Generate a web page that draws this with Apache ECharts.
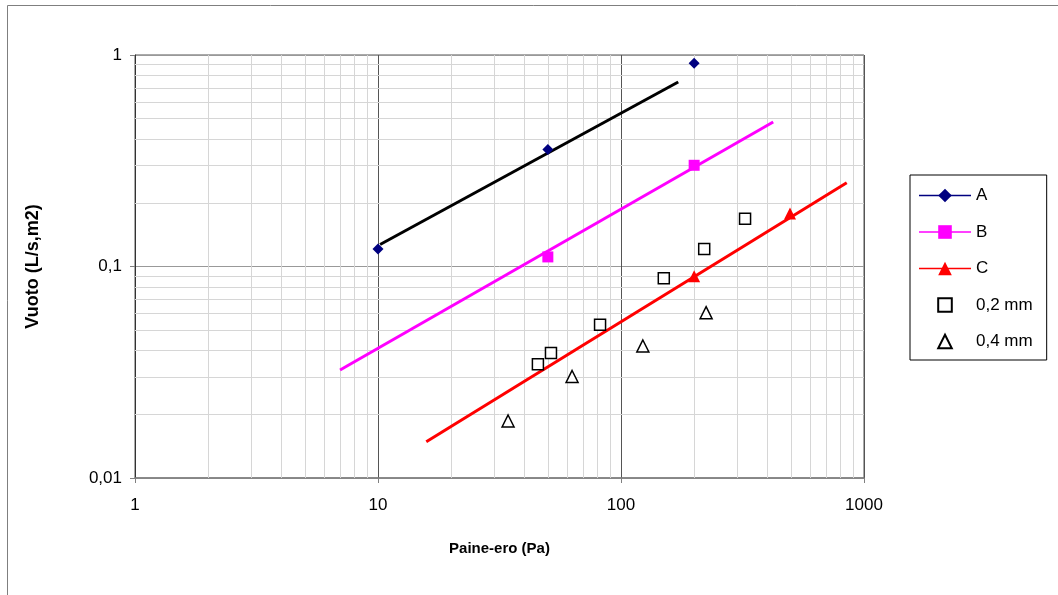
<!DOCTYPE html>
<html>
<head>
<meta charset="utf-8">
<script src="https://cdn.jsdelivr.net/npm/echarts@6/dist/echarts.min.js"></script>
<style>
  html, body { margin: 0; padding: 0; background: #fff; }
  #chart { width: 1058px; height: 595px; }
</style>
</head>
<body>
<div id="chart"></div>
<script>
// Measured points [pressure difference (Pa), leakage (L/s,m2)]
const seriesA = [[10, 0.121], [50, 0.357], [200, 0.915]];
const seriesB = [[50, 0.111], [200, 0.301]];
const seriesC = [[200, 0.090], [496, 0.178]];
const gap02 = [[45.5, 0.0345], [51.5, 0.039], [82, 0.053], [150, 0.088], [220, 0.121], [324, 0.168]];
const gap04 = [[34.3, 0.0186], [62.9, 0.0302], [123, 0.0421], [224, 0.0605]];

// Power-law trend lines (end points)
const trendA = [[10.2, 0.127], [172, 0.745]];
const trendB = [[6.98, 0.0324], [423, 0.482]];
const trendC = [[15.8, 0.01485], [849, 0.249]];

// Axis ticks and labels
const xTickValues = [1, 10, 100, 1000];
const xTickLabels = ['1', '10', '100', '1000'];
const yTickValues = [0.01, 0.1, 1];
const yTickLabels = ['0,01', '0,1', '1'];

// Minor grid values inside each decade
const xMinorGrid = [2, 3, 4, 5, 6, 7, 8, 9, 20, 30, 40, 50, 60, 70, 80, 90, 200, 300, 400, 500, 600, 700, 800, 900];
const yMinorGrid = [0.02, 0.03, 0.04, 0.05, 0.06, 0.07, 0.08, 0.09, 0.2, 0.3, 0.4, 0.5, 0.6, 0.7, 0.8, 0.9];

function lookup(values, labels, v) {
  for (let i = 0; i < values.length; i++) {
    if (Math.abs(Math.log10(v) - Math.log10(values[i])) < 1e-6) return labels[i];
  }
  return '';
}

const FONT = '"Liberation Sans", Arial, sans-serif';
const chart = echarts.init(document.getElementById('chart'), null, { renderer: 'canvas' });

const minorLines = [];
xMinorGrid.forEach(v => minorLines.push({ xAxis: v }));
yMinorGrid.forEach(v => minorLines.push({ yAxis: v }));

// Marker-only series drawn as line series with a hidden connecting line
function markerSeries(name, data, symbol, size, itemStyle) {
  return {
    name: name, type: 'line', data: data, z: 4,
    symbol: symbol, symbolSize: size, showAllSymbol: true,
    itemStyle: itemStyle,
    lineStyle: { opacity: 0, color: itemStyle.borderColor || itemStyle.color },
    emphasis: { disabled: true }
  };
}

chart.setOption({
  animation: false,
  backgroundColor: '#ffffff',
  textStyle: { fontFamily: FONT },
  graphic: [{
    type: 'rect',
    shape: { x: 7.5, y: 5.5, width: 1200, height: 800 },
    style: { fill: 'none', stroke: '#7f7f7f', lineWidth: 1 },
    silent: true, z: 0
  }],
  grid: {
    left: 135, top: 55, right: 194, bottom: 117,
    show: true, borderColor: '#555', borderWidth: 1, backgroundColor: 'transparent'
  },
  legend: {
    left: 910, top: 175,
    orient: 'vertical',
    itemWidth: 52, itemHeight: 17, itemGap: 19.5,
    padding: [12, 14, 10, 8],
    borderColor: '#000', borderWidth: 1,
    textStyle: { fontSize: 17, color: '#000', fontFamily: FONT },
    data: [
      { name: 'A', lineStyle: { color: '#000080', width: 1.5, opacity: 1 } },
      { name: 'B', lineStyle: { color: '#ff00ff', width: 1.5, opacity: 1 } },
      { name: 'C', lineStyle: { color: '#ff0000', width: 1.5, opacity: 1 } },
      { name: '0,2 mm', lineStyle: { opacity: 0 } },
      { name: '0,4 mm', lineStyle: { opacity: 0 } }
    ]
  },
  xAxis: {
    type: 'log', logBase: 10, min: 1, max: 1000,
    name: 'Paine-ero (Pa)', nameLocation: 'middle', nameGap: 63,
    nameTextStyle: { fontSize: 15, fontWeight: 'bold', color: '#000', fontFamily: FONT },
    axisLine: { show: true, lineStyle: { color: '#808080', width: 1.5 } },
    axisTick: { show: true, length: 5, lineStyle: { color: '#808080' } },
    axisLabel: {
      fontSize: 17, color: '#000', margin: 19, fontFamily: FONT,
      formatter: v => lookup(xTickValues, xTickLabels, v)
    },
    splitLine: { show: true, lineStyle: { color: '#555', width: 1 } },
    minorTick: { show: false }, minorSplitLine: { show: false }
  },
  yAxis: {
    type: 'log', logBase: 10, min: 0.01, max: 1,
    name: 'Vuoto (L/s,m2)', nameLocation: 'middle', nameGap: 93, nameRotate: 90,
    nameTextStyle: { fontSize: 18, fontWeight: 'bold', color: '#000', fontFamily: FONT },
    axisLine: { show: true, lineStyle: { color: '#333', width: 1 } },
    axisTick: { show: true, length: 5, lineStyle: { color: '#808080' } },
    axisLabel: {
      fontSize: 17, color: '#000', margin: 13, fontFamily: FONT,
      formatter: v => lookup(yTickValues, yTickLabels, v)
    },
    splitLine: { show: true, lineStyle: { color: '#999', width: 1 } },
    minorTick: { show: false }, minorSplitLine: { show: false }
  },
  series: [
    {
      name: 'grid-minor', type: 'line', data: [], z: 1, silent: true,
      markLine: {
        z: 1, silent: true, symbol: ['none', 'none'], animation: false,
        label: { show: false },
        lineStyle: { type: 'solid', color: '#d6d6d6', width: 1 },
        emphasis: { disabled: true },
        data: minorLines
      }
    },
    {
      name: 'trend-A', type: 'line', data: trendA, z: 3, silent: true,
      symbol: 'none', lineStyle: { color: '#000000', width: 3 }
    },
    {
      name: 'trend-B', type: 'line', data: trendB, z: 3, silent: true,
      symbol: 'none', lineStyle: { color: '#ff00ff', width: 3 }
    },
    {
      name: 'trend-C', type: 'line', data: trendC, z: 3, silent: true,
      symbol: 'none', lineStyle: { color: '#ff0000', width: 3 }
    },
    markerSeries('A', seriesA, 'diamond', 11, { color: '#000080' }),
    markerSeries('B', seriesB, 'rect', 11, { color: '#ff00ff' }),
    markerSeries('C', seriesC, 'triangle', 12, { color: '#ff0000' }),
    markerSeries('0,2 mm', gap02, 'rect', 11, { color: '#ffffff', borderColor: '#000', borderWidth: 1.5 }),
    markerSeries('0,4 mm', gap04, 'triangle', 12, { color: '#ffffff', borderColor: '#000', borderWidth: 1.5 })
  ]
});
</script>
</body>
</html>
